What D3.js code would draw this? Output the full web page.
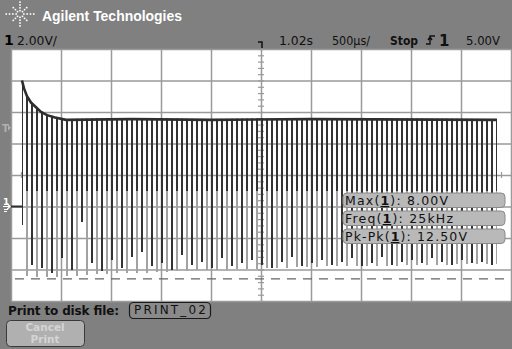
<!DOCTYPE html>
<html>
<head>
<meta charset="utf-8">
<script src="https://cdn.jsdelivr.net/npm/d3@7"></script>
<style>
body { margin: 0; background: #808080; }
svg { display: block; font-family: "DejaVu Sans", sans-serif; }
</style>
</head>
<body>
<svg id="scope" width="512" height="349"></svg>
<script>
// screen divisions (ms across, volts up) for channel 1 at 2 V/div, 500 us/div
const timeDivs = [0, 0.5, 1, 1.5, 2, 2.5, 3, 3.5, 4, 4.5, 5];
const voltDivs = [-6, -4, -2, 0, 2, 4, 6, 8, 10];

const groundTrace = [[0, 0], [0.11, 0]];
const envelope = [
    [0.11, 8.0], [0.13, 7.5], [0.16, 7.0], [0.2, 6.6], [0.25, 6.3], [0.3, 6.0],
    [0.36, 5.8], [0.44, 5.65], [0.55, 5.5], [1.2, 5.55], [2.0, 5.5], [3.0, 5.55], [4.86, 5.5]
];

const pulseStart = 0.11;
const pulseStep = 0.05;
const darkLows = [-1.2, -3.7, -3.9, -4.2, -3.3, -4.0, -1.0, -3.6, -4.1, -3.4, -3.9, -3.2,
    -2.9, -3.8, -3.6, -4.0, -3.1, -3.7, -3.5, -3.9, -3.3, -3.8, -3.6, -3.4,
    -3.7, -3.9, -3.5, -3.2, -3.8, -3.6, -3.4, -3.7, -3.5, -3.3, -3.8, -3.6,
    -3.2, -3.7, -3.5, -3.4, -3.6, -3.3, -3.5, -3.7, -3.4, -3.6, -3.5, -3.7];
const grayLows = [-4.4, -4.5, -4.5, -4.45, -4.4, -4.4, -4.35, -4.3, -4.3, -4.25, -4.25, -4.2,
    -4.2, -4.15, -4.15, -4.1, -4.1, -4.05, -4.05, -4.0, -4.0, -3.95, -3.95, -3.95,
    -3.9, -3.9, -3.9, -3.85, -3.85, -3.85, -3.8, -3.8, -3.8, -3.8, -3.75, -3.75,
    -3.75, -3.75, -3.7, -3.7, -3.7, -3.7, -3.7, -3.65, -3.65, -3.65, -3.65, -3.65];

const triggerLevel = 5.0;
const minCursor = -4.6;

const measNames = ["Max", "Freq", "Pk-Pk"];
const measValues = ["8.00V", "25kHz", "12.50V"];

const svg = d3.select("#scope");

const x = d3.scaleLinear().domain([0, 5]).range([11, 511]);
const y = d3.scaleLinear().domain([-6, 10]).range([301, 49]);

// header
svg.append("rect").attr("width", 512).attr("height", 349).attr("fill", "#808080");

const logo = svg.append("g").attr("transform", "translate(20,14)");
[0, 45, 90, 135, 180, 225, 270, 315].forEach(a => {
    const rad = a * Math.PI / 180;
    const sx = a % 180 === 0 ? 1.1 : 1;
    [3.5, 6.5, 9.5, 12.5].forEach((r, i) => {
        if (a % 90 !== 0 && i === 3) return;
        logo.append("rect")
            .attr("x", Math.cos(rad) * r * sx - 0.8)
            .attr("y", Math.sin(rad) * r * 0.95 - 0.8)
            .attr("width", 1.6).attr("height", 1.6)
            .attr("fill", "#fff");
    });
});

svg.append("text")
    .attr("x", 42).attr("y", 21)
    .attr("font-family", "Liberation Sans, Arial, sans-serif")
    .attr("font-weight", "bold").attr("font-size", 15)
    .attr("textLength", 140).attr("lengthAdjust", "spacingAndGlyphs")
    .attr("fill", "#fff")
    .text("Agilent Technologies");

// status line
svg.append("text").attr("x", 4).attr("y", 45).attr("font-weight", "bold").attr("font-size", 14).text("1");
const statusItems = [
    {text: "2.00V/", x: 17, w: 40, bold: false},
    {text: "1.02s", x: 279, w: 34, bold: false},
    {text: "500µs/", x: 332, w: 38, bold: false},
    {text: "Stop", x: 390, w: 28, bold: true},
    {text: "5.00V", x: 466, w: 34, bold: false}
];
svg.selectAll(".status")
    .data(statusItems)
    .enter()
    .append("text")
    .attr("class", "status")
    .attr("x", d => d.x).attr("y", 45)
    .attr("font-size", 12)
    .attr("font-weight", d => d.bold ? "bold" : "normal")
    .attr("textLength", d => d.w).attr("lengthAdjust", "spacingAndGlyphs")
    .attr("fill", "#111")
    .text(d => d.text);

// trigger slope glyph + source
svg.append("path")
    .attr("d", "M426,44 H430 V36 H435 M428,40 L430,37 L432,40")
    .attr("fill", "none").attr("stroke", "#111").attr("stroke-width", 1.4);
svg.append("text").attr("x", 439).attr("y", 46).attr("font-weight", "bold").attr("font-size", 15).attr("fill", "#111").text("1");

// trigger position marker at the top
svg.append("path")
    .attr("d", "M258,42 H262 V48")
    .attr("fill", "none").attr("stroke", "#111").attr("stroke-width", 1.5);

// plot area
svg.append("rect")
    .attr("x", x(0)).attr("y", y(10))
    .attr("width", x(5) - x(0)).attr("height", y(-6) - y(10))
    .attr("fill", "#fff");

const grid = svg.append("g").attr("class", "grid");
grid.append("g")
    .attr("transform", `translate(0,${y(-6)})`)
    .call(d3.axisBottom(x).tickValues(timeDivs).tickSize(-(y(-6) - y(10))).tickFormat(""));
grid.append("g")
    .attr("transform", `translate(${x(0)},0)`)
    .call(d3.axisLeft(y).tickValues(voltDivs).tickSize(-(x(5) - x(0))).tickFormat(""));
grid.selectAll(".domain").remove();
grid.selectAll("line").attr("stroke", "#9a9a9a").attr("stroke-width", 1.5);

// center graticule minor ticks
const centerV = svg.append("g").attr("transform", `translate(${x(2.5)},0)`);
centerV.call(d3.axisRight(y).tickValues(d3.range(-6, 10.01, 0.4)).tickSize(3).tickFormat(""));
centerV.append("g").call(d3.axisLeft(y).tickValues(d3.range(-6, 10.01, 0.4)).tickSize(3).tickFormat(""));
const centerH = svg.append("g").attr("transform", `translate(0,${y(2)})`);
centerH.call(d3.axisBottom(x).tickValues(d3.range(0, 5.01, 0.1)).tickSize(3).tickFormat(""));
centerH.append("g").call(d3.axisTop(x).tickValues(d3.range(0, 5.01, 0.1)).tickSize(3).tickFormat(""));
svg.selectAll(".domain").remove();
centerV.selectAll("line").attr("stroke", "#9a9a9a").attr("stroke-width", 1.2);
centerH.selectAll("line").attr("stroke", "#9a9a9a").attr("stroke-width", 1.2);

// dashed measurement cursor
svg.append("line")
    .attr("x1", x(0)).attr("x2", x(5))
    .attr("y1", y(minCursor)).attr("y2", y(minCursor))
    .attr("stroke", "#666").attr("stroke-width", 1.3)
    .attr("stroke-dasharray", "9,7").attr("stroke-dashoffset", -4);

// waveform
svg.append("clipPath").attr("id", "under")
    .append("path")
    .attr("d", d3.area().x(d => x(d[0])).y0(y(-6)).y1(d => y(d[1]) - 1)(envelope));

const pulses = [];
darkLows.forEach((v, i) => {
    pulses.push({t: pulseStart + pulseStep * 2 * i, low: v, kind: "dark"});
    if (i < grayLows.length) pulses.push({t: pulseStart + pulseStep * (2 * i + 1), low: grayLows[i], kind: "gray"});
});

const trace = svg.append("g").attr("clip-path", "url(#under)").attr("shape-rendering", "crispEdges");
trace.selectAll(".pulse-gray")
    .data(pulses.filter(d => d.kind === "gray" && d.t <= 4.86))
    .enter()
    .append("line")
    .attr("class", "pulse-gray")
    .attr("x1", d => Math.round(x(d.t))).attr("x2", d => Math.round(x(d.t)))
    .attr("y1", d => y(d.low)).attr("y2", y(1))
    .attr("stroke", "#a2a2a2").attr("stroke-width", 2);
trace.selectAll(".pulse-top")
    .data(pulses.filter(d => d.t <= 4.86))
    .enter()
    .append("line")
    .attr("class", "pulse-top")
    .attr("x1", d => Math.round(x(d.t))).attr("x2", d => Math.round(x(d.t)))
    .attr("y1", d => d.kind === "dark" ? y(d.low) : y(1)).attr("y2", y(10))
    .attr("stroke", "#333").attr("stroke-width", 2);

svg.append("path")
    .attr("d", d3.line().x(d => x(d[0])).y(d => y(d[1]))(envelope))
    .attr("fill", "none").attr("stroke", "#2e2e2e").attr("stroke-width", 2.6);
svg.append("path")
    .attr("d", d3.line().x(d => x(d[0])).y(d => y(d[1]))(groundTrace))
    .attr("fill", "none").attr("stroke", "#2e2e2e").attr("stroke-width", 2);

// left margin markers: trigger level and channel ground
svg.append("text").attr("x", 2).attr("y", y(triggerLevel) + 4)
    .attr("font-size", 10).attr("font-weight", "bold").attr("fill", "#b0b0b0").text("T");
svg.append("path").attr("d", `M8,${y(triggerLevel) - 3} L11,${y(triggerLevel)} L8,${y(triggerLevel) + 3} Z`).attr("fill", "#b0b0b0");
svg.append("text").attr("x", 3).attr("y", y(0) - 2)
    .attr("font-size", 9).attr("font-weight", "bold").attr("fill", "#fff").text("1");
svg.append("path").attr("d", `M3,${y(0)} H10 M7,${y(0) - 3} L10,${y(0)} L7,${y(0) + 3} M4,${y(0) + 3} H8 M4,${y(0) + 5} H7`)
    .attr("fill", "none").attr("stroke", "#fff").attr("stroke-width", 1.2);

// measurement readouts
const meas = svg.selectAll(".meas")
    .data(measNames)
    .enter()
    .append("g")
    .attr("class", "meas")
    .attr("transform", (d, i) => `translate(343,${193 + i * 18})`);
meas.append("rect")
    .attr("width", 162).attr("height", 14.5).attr("rx", 4)
    .attr("fill", "#b9b9b9").attr("stroke", "#8a8a8a").attr("stroke-width", 1);
const mt = meas.append("text")
    .attr("x", 2).attr("y", 12)
    .attr("font-size", 12.5).attr("fill", "#111")
    .attr("textLength", (d, i) => [103, 108, 122][i]).attr("lengthAdjust", "spacing");
mt.append("tspan").text(d => d + "(");
mt.append("tspan").attr("font-weight", "bold").attr("text-decoration", "underline").text("1");
mt.append("tspan").text((d, i) => "):  " + measValues[i]);

// bottom softkey area
svg.append("text").attr("x", 8).attr("y", 315)
    .attr("font-size", 12).attr("font-weight", "bold").attr("fill", "#111")
    .attr("textLength", 111).attr("lengthAdjust", "spacing")
    .text("Print to disk file:");
svg.append("rect").attr("x", 129.5).attr("y", 302.5).attr("width", 81).attr("height", 16).attr("rx", 4)
    .attr("fill", "#8a8a8a").attr("stroke", "#1a1a1a").attr("stroke-width", 1.2);
svg.append("text").attr("x", 134).attr("y", 314)
    .attr("font-size", 12).attr("fill", "#111")
    .attr("textLength", 72).attr("lengthAdjust", "spacing")
    .text("PRINT_02");

svg.append("rect").attr("x", 6.5).attr("y", 320.5).attr("width", 78).attr("height", 26).attr("rx", 4)
    .attr("fill", "#b0b0b0").attr("stroke", "#3a3a3a").attr("stroke-width", 1);
svg.selectAll(".cancel")
    .data(["Cancel", "Print"])
    .enter()
    .append("text")
    .attr("class", "cancel")
    .attr("x", 45).attr("y", (d, i) => 331 + i * 12)
    .attr("text-anchor", "middle")
    .attr("font-size", 10.5).attr("font-weight", "bold").attr("fill", "#d4d4d4")
    .text(d => d);
</script>
</body>
</html>
